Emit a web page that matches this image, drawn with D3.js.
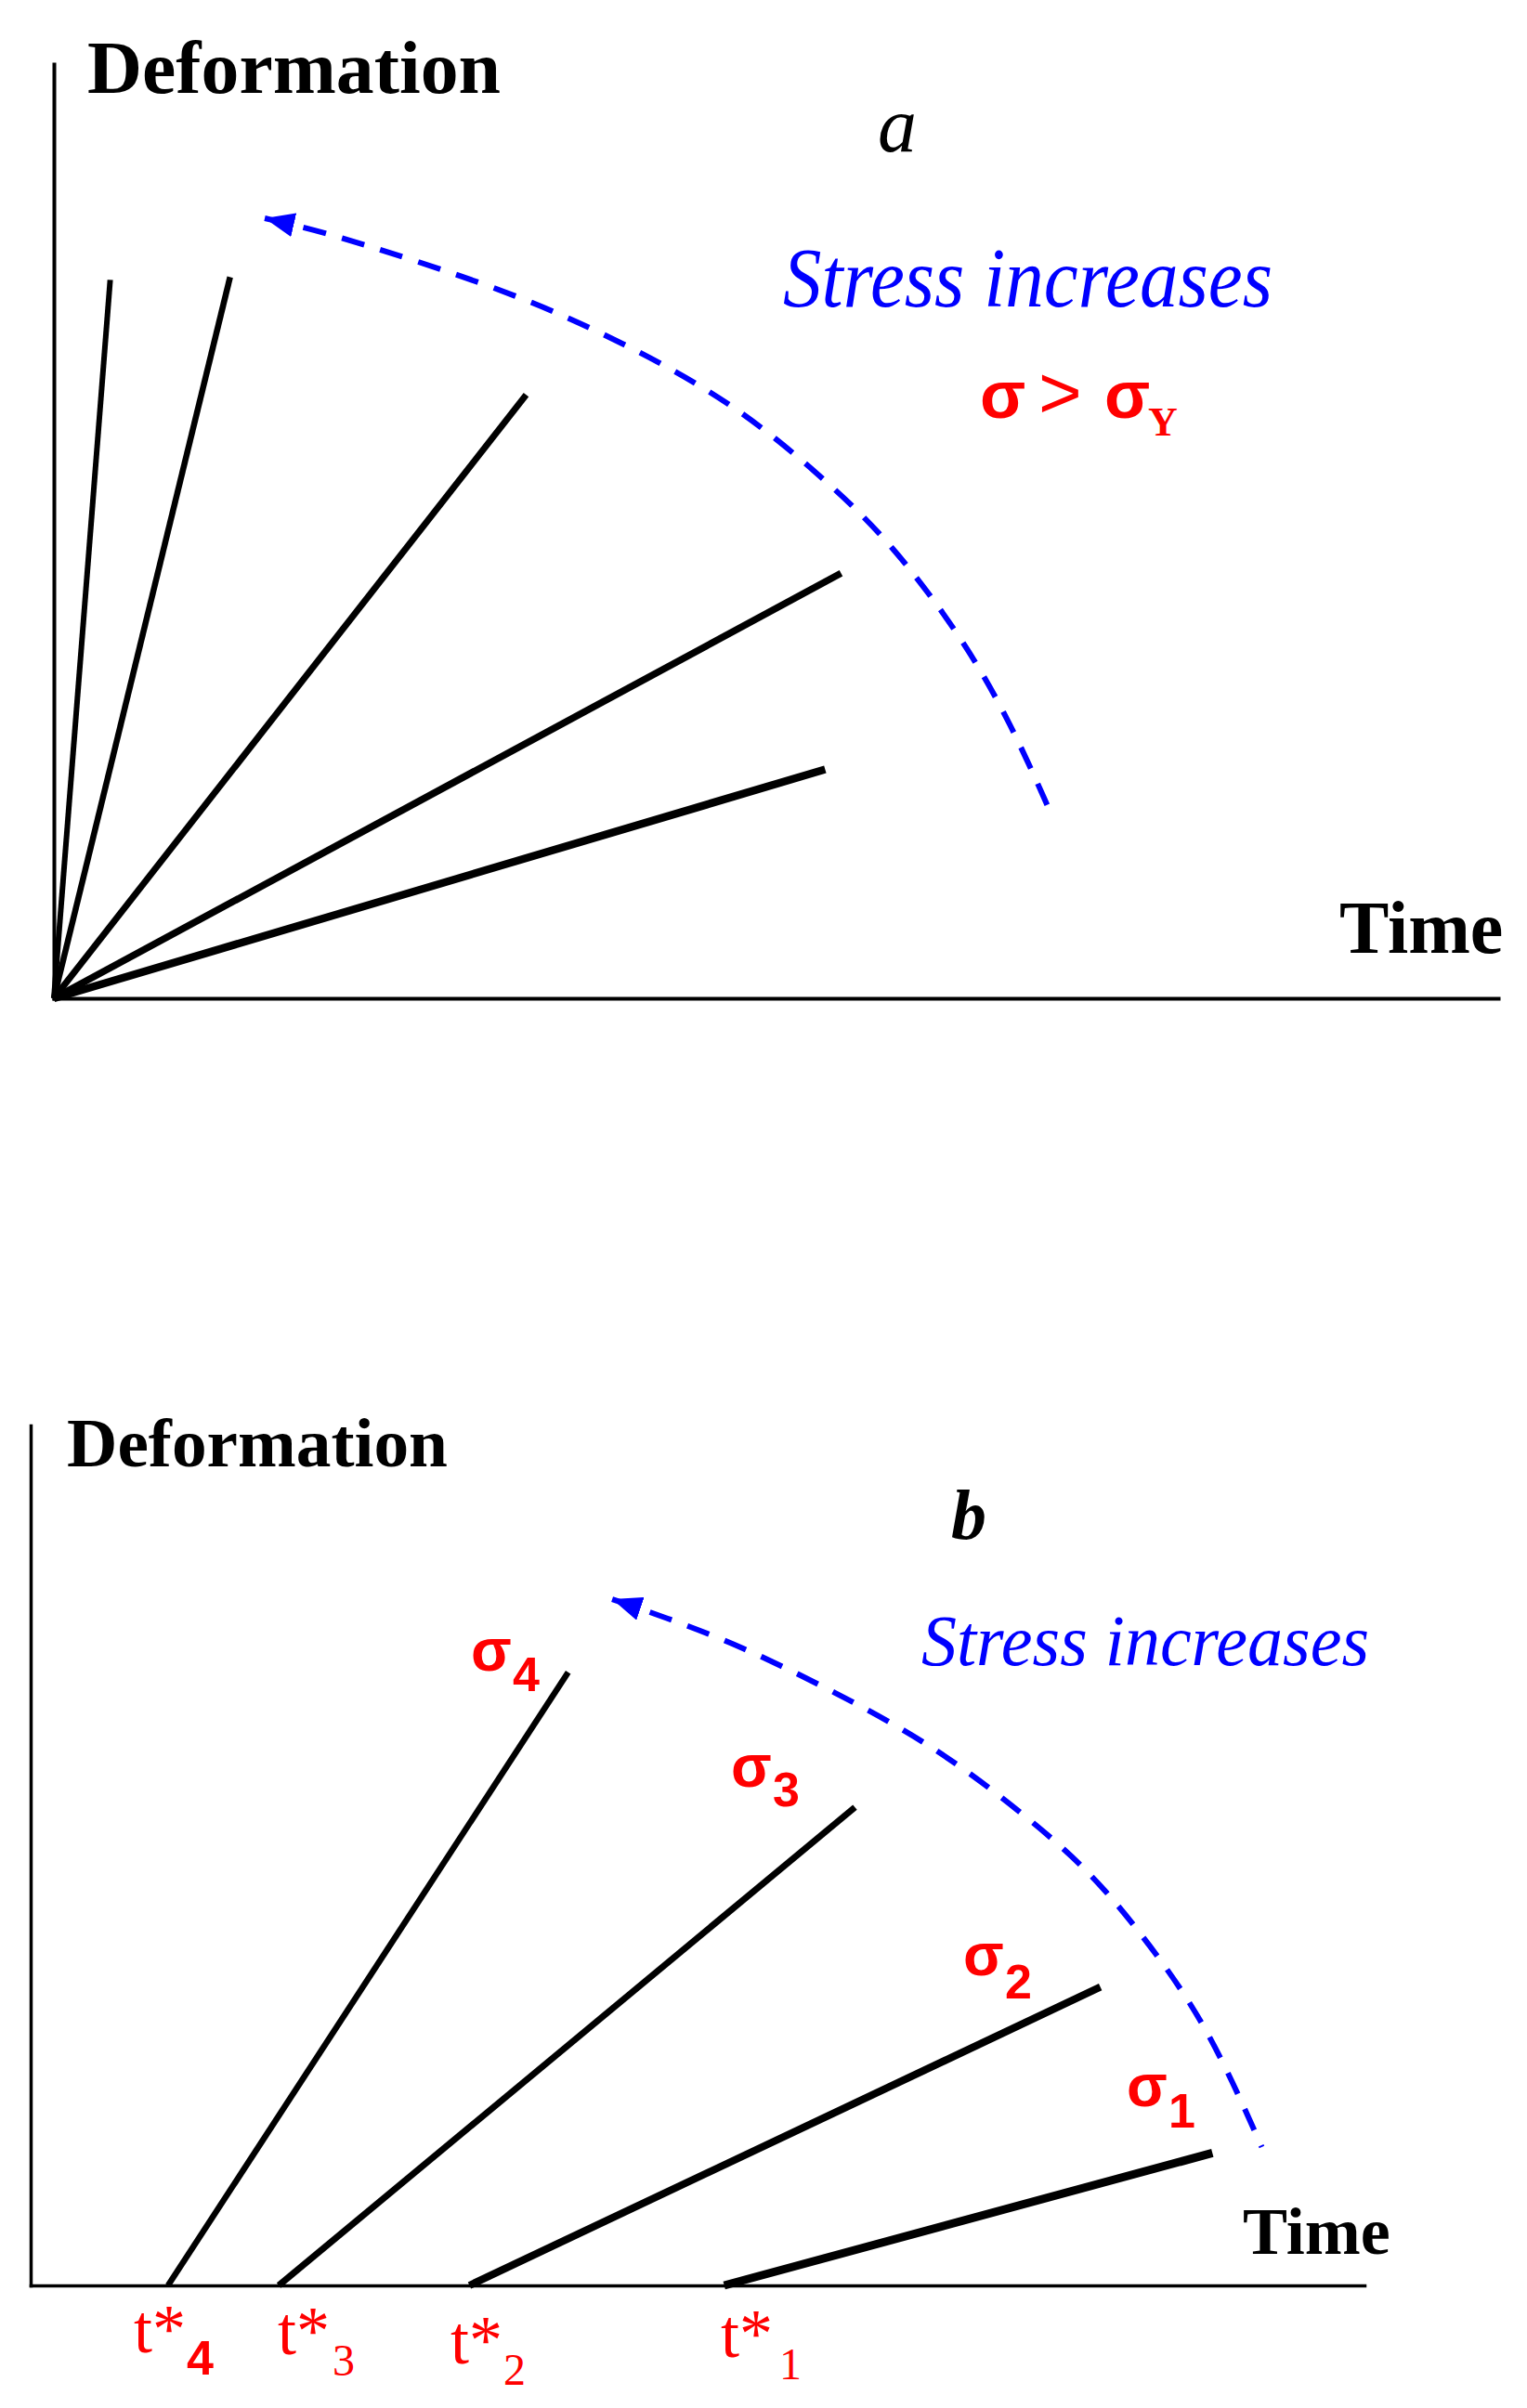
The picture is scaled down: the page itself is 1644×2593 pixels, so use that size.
<!DOCTYPE html>
<html><head><meta charset="utf-8">
<script src="https://cdn.jsdelivr.net/npm/d3@7"></script>
<style>html,body{margin:0;padding:0;background:#fff;} svg{display:block;}</style>
</head><body>
<script>
// ---------- data (time / deformation units, 0-100) ----------
const rayEndTimeA = [3.9, 12.2, 32.7, 54.5, 53.4];
const rayEndDefA  = [76.9, 77.2, 64.6, 45.5, 24.5];
const arcTimeA = [14.6, 18.5, 24.6, 33.0, 40.7, 47.5, 53.5, 57.9, 63.0, 66.3, 69.0];
const arcDefA  = [83.5, 82.1, 79.2, 74.8, 69.2, 63.2, 55.4, 48.9, 38.4, 29.3, 19.9];

const stressIndex = ["1", "2", "3", "4"];
const onsetTimeB = [52.0, 32.9, 18.6, 10.3];
const endTimeB   = [88.6, 80.2, 61.8, 40.3];
const endDefB    = [15.4, 34.7, 55.6, 71.3];
const arcTimeB = [43.6, 47.4, 53.2, 60.2, 67.8, 74.4, 79.5, 83.9, 88.3, 92.3];
const arcDefB  = [79.8, 77.8, 74.4, 69.1, 62.7, 54.9, 48.1, 39.7, 30.0, 16.1];

// ---------- layout ----------
const W = 1644, H = 2593;
const SERIF = "'Liberation Serif','DejaVu Serif',serif";
const SANS = "'Liberation Sans',Arial,sans-serif";
const BLUE = "#0000ff", RED = "#ff0000";

const svg = d3.select("body").append("svg").attr("width", W).attr("height", H);

const defs = svg.append("defs");
defs.append("marker").attr("id", "ah")
  .attr("markerUnits", "userSpaceOnUse")
  .attr("markerWidth", 32).attr("markerHeight", 26)
  .attr("viewBox", "0 0 32 26")
  .attr("refX", 32).attr("refY", 13)
  .attr("orient", "auto-start-reverse")
  .append("path").attr("d", "M0,0 L32,13 L0,26 Z").attr("fill", BLUE);

function drawAxes(x, y, sw) {
  const gx = svg.append("g").attr("transform", `translate(0,${y.range()[0]})`)
    .call(d3.axisBottom(x).tickValues([]).tickSizeOuter(0));
  const gy = svg.append("g").attr("transform", `translate(${x.range()[0]},0)`)
    .call(d3.axisLeft(y).tickValues([]).tickSizeOuter(0));
  [gx, gy].forEach(g => g.select(".domain").attr("stroke", "#000")
    .attr("stroke-width", sw).attr("stroke-linecap", "square"));
}

function drawArc(x, y, ts, ds) {
  const pts = ts.map((t, i) => [x(t), y(ds[i])]);
  svg.append("path")
    .attr("d", d3.line().curve(d3.curveBasis)(pts))
    .attr("fill", "none").attr("stroke", BLUE).attr("stroke-width", 6)
    .attr("stroke-dasharray", "25,18")
    .attr("marker-start", "url(#ah)");
}

function txt(x, y, s, o) {
  const t = svg.append("text").attr("x", x).attr("y", y).text(s)
    .attr("font-family", o.ff || SERIF).attr("font-size", o.fs)
    .attr("font-weight", o.fw || "normal").attr("font-style", o.st || "normal")
    .attr("fill", o.fill || "#000");
  if (o.len) t.attr("textLength", o.len).attr("lengthAdjust", "spacingAndGlyphs");
  return t;
}

// ================= Panel a =================
const xA = d3.scaleLinear([0, 100], [58, 1613]);
const yA = d3.scaleLinear([0, 100], [1075, 69]);
const rayWidthA = [6, 6.5, 7, 7.5, 8.5];

svg.append("g").selectAll("line").data(rayEndTimeA).join("line")
  .attr("x1", xA(0)).attr("y1", yA(0))
  .attr("x2", d => xA(d)).attr("y2", (d, i) => yA(rayEndDefA[i]))
  .attr("stroke", "#000").attr("stroke-width", (d, i) => rayWidthA[i]);

drawAxes(xA, yA, 4);
drawArc(xA, yA, arcTimeA, arcDefA);

txt(94, 100, "Deformation", {fs: 80, fw: "bold", len: 445});
txt(945, 163, "a", {fs: 84, st: "italic"});
txt(843, 330, "Stress increases", {fs: 90, st: "italic", fill: BLUE, len: 527});
txt(1055, 450, "σ", {fs: 72, fw: "bold", ff: SANS, fill: RED});
txt(1118, 450, ">", {fs: 80, ff: SANS, fill: RED});
txt(1189, 450, "σ", {fs: 72, fw: "bold", ff: SANS, fill: RED});
txt(1236, 469, "Y", {fs: 44, fw: "bold", fill: RED});
txt(1442, 1026, "Time", {fs: 80, fw: "bold"});

// ================= Panel b =================
const xB = d3.scaleLinear([0, 100], [33, 1469]);
const yB = d3.scaleLinear([0, 100], [2461, 1535]);
const rayWidthB = [9, 8, 7, 6.5];

svg.append("g").selectAll("line").data(onsetTimeB).join("line")
  .attr("x1", d => xB(d)).attr("y1", yB(0))
  .attr("x2", (d, i) => xB(endTimeB[i])).attr("y2", (d, i) => yB(endDefB[i]))
  .attr("stroke", "#000").attr("stroke-width", (d, i) => rayWidthB[i]);

drawAxes(xB, yB, 3.5);
drawArc(xB, yB, arcTimeB, arcDefB);

txt(72, 1579, "Deformation", {fs: 75, fw: "bold", len: 410});
txt(1024, 1657, "b", {fs: 76, fw: "bold", st: "italic"});
txt(992, 1793, "Stress increases", {fs: 78, st: "italic", fill: BLUE, len: 482});
txt(1338, 2427, "Time", {fs: 72, fw: "bold"});

// sigma labels at ray ends (σ1..σ4)
const sigmaPos = [[1213, 2268], [1037, 2127], [787, 1924], [507, 1799]];
const sigmaSubDy = [23, 25, 21, 22];
stressIndex.forEach((s, i) => {
  const [px, py] = sigmaPos[i];
  txt(px, py, "σ", {fs: 64, fw: "bold", ff: SANS, fill: RED});
  txt(px + 45, py + sigmaSubDy[i], s, {fs: 52, fw: "bold", ff: SANS, fill: RED});
});

// onset time labels t*1..t*4
const tPos = [[776, 2538], [485, 2545], [299, 2535], [144, 2533]];
const tSubPos = [[839, 2562], [542, 2568], [358, 2558], [201, 2557]];
stressIndex.forEach((s, i) => {
  txt(tPos[i][0], tPos[i][1], "t*", {fs: 74, fill: RED, len: 56});
  if (s === "4") txt(tSubPos[i][0], tSubPos[i][1], s, {fs: 52, fw: "bold", ff: SANS, fill: RED});
  else txt(tSubPos[i][0], tSubPos[i][1], s, {fs: 48, fill: RED});
});
</script>
</body></html>
